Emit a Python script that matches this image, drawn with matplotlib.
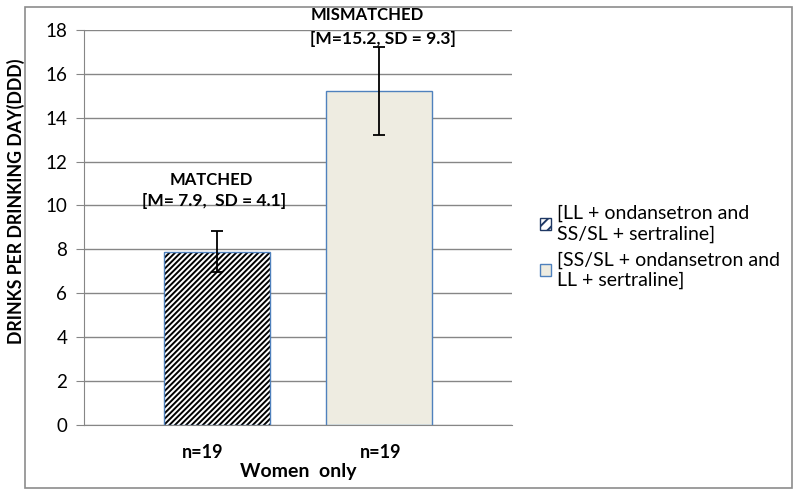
import matplotlib
matplotlib.use("Agg")
import matplotlib.pyplot as plt
from matplotlib.patches import Rectangle

plt.rcParams['font.family'] = ['Lato', 'DejaVu Sans']
plt.rcParams['hatch.linewidth'] = 1.4

# data
groups = ["[LL + ondansetron and\nSS/SL + sertraline]",
          "[SS/SL + ondansetron and\nLL + sertraline]"]
means = [7.9, 15.2]
errs = [0.93, 2.0]
group_titles = ["MATCHED", "MISMATCHED"]
stat_labels = ["[M= 7.9,  SD = 4.1]", "[M=15.2, SD = 9.3]"]
n_labels = ["n=19", "n=19"]
category = "Women  only"
yticks = [0, 2, 4, 6, 8, 10, 12, 14, 16, 18]

fig = plt.figure(figsize=(8, 4.97), dpi=100)
ax = fig.add_axes([0.105, 0.145, 0.535, 0.795])

# outer chart frame
fig.patches.append(Rectangle((25 / 800, 1 - 488 / 497), 767 / 800, 481 / 497,
                             transform=fig.transFigure, fill=False,
                             edgecolor='#8c8c8c', linewidth=1.2))

xpos = [0.5 - 0.1904, 0.5 + 0.1904]
width = 0.2477
ax.bar(xpos[0], means[0], width, color='white', linewidth=0, zorder=3)
ax.bar(xpos[1], means[1], width, color='#eeece1', edgecolor='#4f81bd',
       linewidth=1.0, zorder=3)
# black hatch over the first bar, then the blue outline
ax.bar(xpos[0], means[0], width, color='none', edgecolor='black',
       hatch='//////', linewidth=0, zorder=3.5)
ax.bar(xpos[0], means[0], width, color='none', edgecolor='#4f81bd',
       linewidth=1.0, zorder=3.6)

ax.errorbar(xpos, means, yerr=errs, fmt='none', ecolor='black',
            elinewidth=1.3, capsize=4, capthick=1.3, zorder=4)

ax.set_xlim(0, 1)
ax.set_ylim(0, 18)
ax.set_yticks(yticks)
ax.set_xticks([])
ax.grid(axis='y', color='#868686', linewidth=1.0, zorder=0)
for s in ['top', 'right']:
    ax.spines[s].set_visible(False)
ax.spines['left'].set_color('#868686')
ax.spines['bottom'].set_color('#868686')
ax.tick_params(axis='y', length=6, color='#868686', labelsize=13.5, pad=6)

fig.text(16 / 800, 1 - 201 / 497, "DRINKS PER DRINKING DAY(DDD)",
         rotation=90, ha='center', va='center', fontsize=12.8, fontweight='bold')

# annotations over bars
title_pos = [(211, 180), (367, 15)]
stat_pos = [(214, 201), (383, 39)]
for i in range(2):
    fig.text(title_pos[i][0] / 800, 1 - title_pos[i][1] / 497, group_titles[i],
             ha='center', va='center', fontsize=12, fontweight='bold')
    fig.text(stat_pos[i][0] / 800, 1 - stat_pos[i][1] / 497, stat_labels[i],
             ha='center', va='center', fontsize=12.5, fontweight='bold')

n_x = [203, 381]
for i in range(2):
    fig.text(n_x[i] / 800, 1 - 452 / 497, n_labels[i], ha='center',
             va='center', fontsize=13, fontweight='bold')
fig.text(298 / 800, 1 - 471 / 497, category, ha='center', va='center',
         fontsize=14, fontweight='bold')

# legend
h1 = Rectangle((0, 0), 1, 1, facecolor='white', edgecolor='#1f3864',
               hatch='///', linewidth=1.0)
h2 = Rectangle((0, 0), 1, 1, facecolor='#eeece1', edgecolor='#4f81bd',
               linewidth=1.0)
fig.legend([h1, h2], groups, loc='center left',
           bbox_to_anchor=(522 / 800, 1 - 247 / 497), frameon=False,
           fontsize=14, handlelength=0.6, handleheight=0.6, handletextpad=0.3,
           labelspacing=0.45)

fig.savefig("out.png", dpi=100)
